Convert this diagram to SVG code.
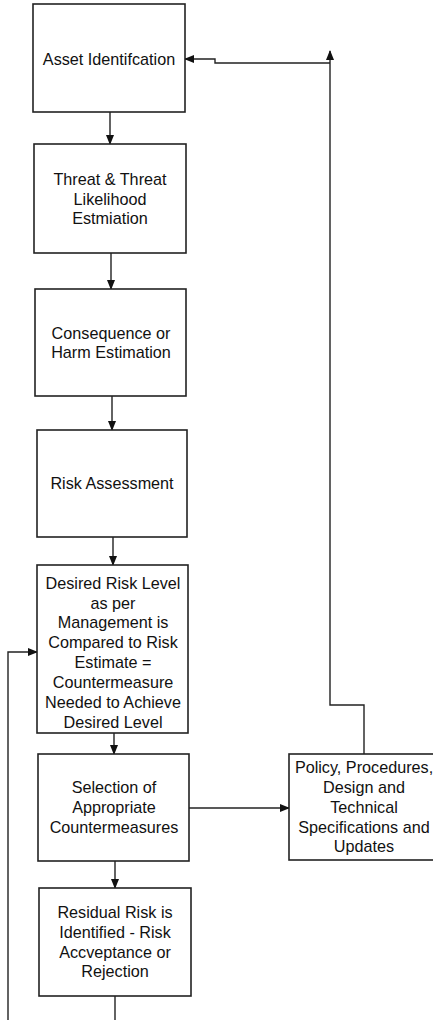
<svg xmlns="http://www.w3.org/2000/svg" width="433" height="1020" viewBox="0 0 433 1020">
<defs>
<marker id="ah" markerWidth="10" markerHeight="8" refX="9" refY="4" orient="auto" markerUnits="userSpaceOnUse">
<path d="M0,0 L10,4 L0,8 Z" fill="#111"/>
</marker>
<style>
.box{fill:#fff;stroke:#222;stroke-width:1.6}
.t{font-family:"Liberation Sans",Arial,sans-serif;font-size:16.2px;fill:#111;text-anchor:middle;dominant-baseline:central}
.c{fill:none;stroke:#222;stroke-width:1.4}
</style>
</defs>
<rect width="433" height="1020" fill="#fff"/>
<g id="connectors">
<path class="c" d="M110,112 V144" marker-end="url(#ah)"/>
<path class="c" d="M111,253 V289" marker-end="url(#ah)"/>
<path class="c" d="M112,396 V430" marker-end="url(#ah)"/>
<path class="c" d="M113,537 V565" marker-end="url(#ah)"/>
<path class="c" d="M114,733 V754" marker-end="url(#ah)"/>
<path class="c" d="M115,861 V888" marker-end="url(#ah)"/>
<path class="c" d="M189,808 H289" marker-end="url(#ah)"/>
<path class="c" d="M364,754 V705 H330 V51" marker-end="url(#ah)"/>
<path class="c" d="M330,63 H215 V59 H185" marker-end="url(#ah)"/>
<path class="c" d="M115,996 V1020"/>
<path class="c" d="M8,1020 V652 H37" marker-end="url(#ah)"/>
</g>
<g id="asset">
<rect class="box" x="33" y="4" width="152" height="108"/>
<text class="t" x="109" y="59">Asset Identifcation</text>
</g>
<g id="threat">
<rect class="box" x="34" y="144" width="152" height="109"/>
<text class="t" x="110" y="179">Threat &amp; Threat</text>
<text class="t" x="110" y="199">Likelihood</text>
<text class="t" x="110" y="218">Estmiation</text>
</g>
<g id="consequence">
<rect class="box" x="35" y="289" width="151" height="107"/>
<text class="t" x="111" y="333">Consequence or</text>
<text class="t" x="111" y="352">Harm Estimation</text>
</g>
<g id="risk">
<rect class="box" x="37" y="430" width="150" height="107"/>
<text class="t" x="112" y="483">Risk Assessment</text>
</g>
<g id="desired">
<rect class="box" x="37" y="565" width="151" height="168"/>
<text class="t" x="113" y="583">Desired Risk Level</text>
<text class="t" x="113" y="603">as per</text>
<text class="t" x="113" y="622">Management is</text>
<text class="t" x="113" y="642">Compared to Risk</text>
<text class="t" x="113" y="662">Estimate =</text>
<text class="t" x="113" y="682">Countermeasure</text>
<text class="t" x="113" y="702">Needed to Achieve</text>
<text class="t" x="113" y="722">Desired Level</text>
</g>
<g id="selection">
<rect class="box" x="38" y="754" width="151" height="107"/>
<text class="t" x="114" y="787">Selection of</text>
<text class="t" x="114" y="807">Appropriate</text>
<text class="t" x="114" y="827">Countermeasures</text>
</g>
<g id="policy">
<rect class="box" x="289" y="754" width="150" height="106"/>
<text class="t" x="364" y="767">Policy, Procedures,</text>
<text class="t" x="364" y="787">Design and</text>
<text class="t" x="364" y="807">Technical</text>
<text class="t" x="364" y="827">Specifications and</text>
<text class="t" x="364" y="846">Updates</text>
</g>
<g id="residual">
<rect class="box" x="39" y="888" width="152" height="108"/>
<text class="t" x="115" y="912">Residual Risk is</text>
<text class="t" x="115" y="932">Identified - Risk</text>
<text class="t" x="115" y="952">Accveptance or</text>
<text class="t" x="115" y="971">Rejection</text>
</g>
</svg>
